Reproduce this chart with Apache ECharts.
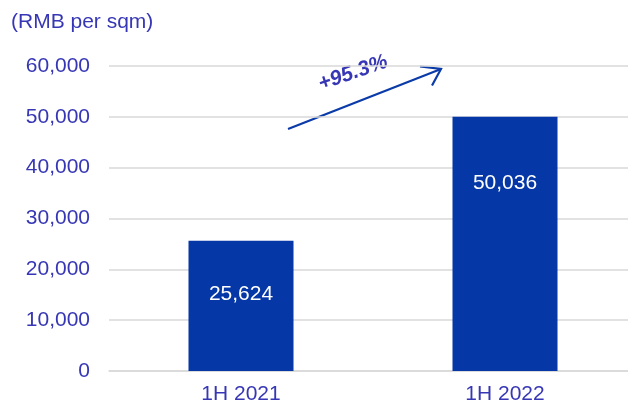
<!DOCTYPE html>
<html>
<head>
<meta charset="utf-8">
<script src="https://cdn.jsdelivr.net/npm/echarts@6/dist/echarts.min.js"></script>
<style>html,body{margin:0;padding:0;background:#fff}#c{width:628px;height:405px}</style>
</head>
<body>
<div id="c"></div>
<script>
var categories = ['1H 2021', '1H 2022'];
var values = [25624, 50036];
var yTicks = [0, 10000, 20000, 30000, 40000, 50000, 60000];
var growthLabel = '+95.3%';
var unitLabel = '(RMB per sqm)';

var textColor = '#3737B6';
var barColor = '#0537A6';
var fontFam = '"Liberation Sans", Arial, sans-serif';
var labelDist = [43, 56];

var chart = echarts.init(document.getElementById('c'), null, {renderer: 'canvas'});
chart.setOption({
  animation: false,
  title: {
    text: unitLabel, left: 11, top: 12, padding: 0,
    textStyle: {color: textColor, fontSize: 21, fontWeight: 'normal', fontFamily: fontFam}
  },
  grid: {left: 109, top: 66, right: -9, bottom: 34, containLabel: false, outerBoundsMode: 'none'},
  xAxis: {
    type: 'category', data: categories,
    axisLine: {show: true, lineStyle: {color: '#D9D9D9', width: 1.5}},
    axisTick: {show: false},
    axisLabel: {color: textColor, fontSize: 21, fontFamily: fontFam, margin: 13}
  },
  yAxis: {
    type: 'value', min: yTicks[0], max: yTicks[yTicks.length - 1], interval: 10000,
    axisLine: {show: false}, axisTick: {show: false},
    splitLine: {lineStyle: {color: '#D9D9D9', width: 1.5}},
    axisLabel: {
      color: textColor, fontSize: 21, fontFamily: fontFam, margin: 19,
      formatter: function (v) { return v.toLocaleString('en-US'); }
    }
  },
  series: [{
    type: 'bar', barWidth: 105,
    itemStyle: {color: barColor},
    data: values.map(function (v, i) {
      return {
        value: v,
        label: {
          show: true, position: 'insideTop', distance: labelDist[i],
          color: '#FFFFFF', fontSize: 21, fontFamily: fontFam,
          formatter: function (p) { return p.value.toLocaleString('en-US'); }
        }
      };
    })
  }],
  graphic: [
    {type: 'line', shape: {x1: 288, y1: 129, x2: 441, y2: 69}, style: {stroke: '#0B3BA8', lineWidth: 2.2}},
    {type: 'polyline', shape: {points: [[420, 66.5], [441, 69], [432, 85.5]]}, style: {stroke: '#0B3BA8', lineWidth: 2.2, fill: null}},
    {type: 'text', x: 353, y: 73, rotation: 19 * Math.PI / 180,
     style: {text: growthLabel, fill: textColor, font: 'italic bold 21px "Liberation Sans", Arial, sans-serif', align: 'center', verticalAlign: 'middle'}}
  ]
});
</script>
</body>
</html>
